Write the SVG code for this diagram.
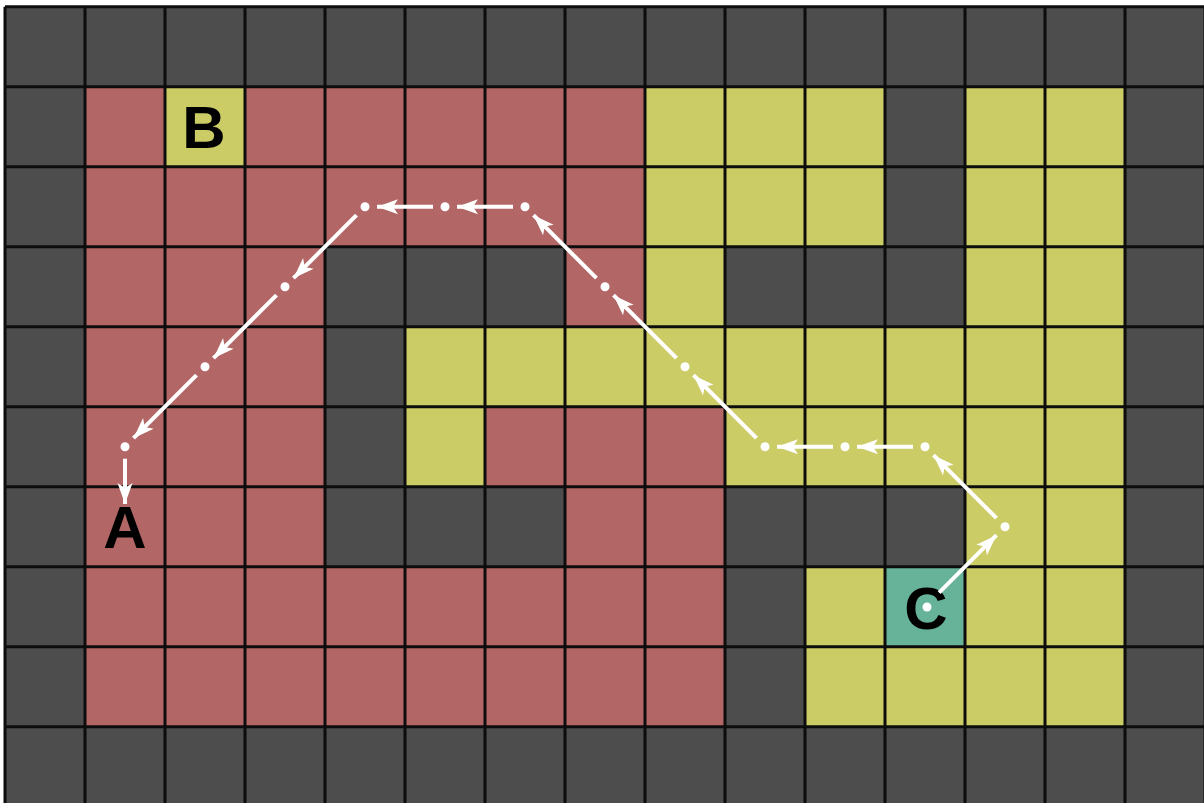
<svg xmlns="http://www.w3.org/2000/svg" width="1204" height="803" viewBox="0 0 1204 803">
<style>
.d{fill:#4d4d4d}.r{fill:#b36666}.y{fill:#cccc66}.t{fill:#66b399}
.grid{stroke:#0d0d0d;stroke-width:3;fill:none}
.lbl{font-family:"Liberation Sans",Arial,sans-serif;font-weight:bold;font-size:60px;fill:#000;text-anchor:middle}
.seg{stroke:#fff;stroke-width:4;fill:none;marker-end:url(#ah)}
.dot{fill:#fff}
</style>
<defs>
<marker id="ah" markerUnits="userSpaceOnUse" markerWidth="24" markerHeight="18" viewBox="0 -9 22 18" refX="21" refY="0" orient="auto">
<path d="M0,-7.5 L21,0 L0,7.5 L5,0 z" fill="#fff"/>
</marker>
</defs>
<rect width="1204" height="803" fill="#fff"/>
<g id="grid" transform="translate(5,6.7)">
<rect class="d" x="0" y="0" width="1200" height="800"/>
<g id="red">
<rect class="r" x="80" y="80" width="80" height="80"/>
<rect class="r" x="240" y="80" width="400" height="80"/>
<rect class="r" x="80" y="160" width="560" height="80"/>
<rect class="r" x="80" y="240" width="240" height="320"/>
<rect class="r" x="560" y="240" width="80" height="80"/>
<rect class="r" x="480" y="400" width="240" height="80"/>
<rect class="r" x="560" y="480" width="160" height="80"/>
<rect class="r" x="80" y="560" width="640" height="160"/>
</g>
<g id="yellow">
<rect class="y" x="640" y="80" width="240" height="160"/>
<rect class="y" x="960" y="80" width="160" height="640"/>
<rect class="y" x="640" y="240" width="80" height="80"/>
<rect class="y" x="400" y="320" width="560" height="80"/>
<rect class="y" x="400" y="400" width="80" height="80"/>
<rect class="y" x="720" y="400" width="240" height="80"/>
<rect class="y" x="800" y="560" width="80" height="160"/>
<rect class="y" x="880" y="640" width="80" height="80"/>
</g>
<g id="nodeB"><rect class="y" x="160" y="80" width="80" height="80"/></g>
<g id="nodeC"><rect class="t" x="880" y="560" width="80" height="80"/></g>
<path class="grid" d="M0,0V800M80,0V800M160,0V800M240,0V800M320,0V800M400,0V800M480,0V800M560,0V800M640,0V800M720,0V800M800,0V800M880,0V800M960,0V800M1040,0V800M1120,0V800M1200,0V800M0,0H1200M0,80H1200M0,160H1200M0,240H1200M0,320H1200M0,400H1200M0,480H1200M0,560H1200M0,640H1200M0,720H1200M0,800H1200"/>
</g>
<g id="labels">
<text id="labelA" class="lbl" x="125" y="548">A</text>
<text id="labelB" class="lbl" x="204" y="148">B</text>
<text id="labelC" class="lbl" x="926" y="629">C</text>
</g>
<g id="connectors">
<line class="seg" x1="939.1" y1="592.6" x2="996.5" y2="535.2"/>
<line class="seg" x1="996.5" y1="518.2" x2="933.5" y2="455.2"/>
<line class="seg" x1="913" y1="446.7" x2="857" y2="446.7"/>
<line class="seg" x1="833" y1="446.7" x2="777" y2="446.7"/>
<line class="seg" x1="756.5" y1="438.2" x2="693.5" y2="375.2"/>
<line class="seg" x1="676.5" y1="358.2" x2="613.5" y2="295.2"/>
<line class="seg" x1="596.5" y1="278.2" x2="533.5" y2="215.2"/>
<line class="seg" x1="513" y1="206.7" x2="457" y2="206.7"/>
<line class="seg" x1="433" y1="206.7" x2="377" y2="206.7"/>
<line class="seg" x1="356.5" y1="215.2" x2="293.5" y2="278.2"/>
<line class="seg" x1="276.5" y1="295.2" x2="213.5" y2="358.2"/>
<line class="seg" x1="196.5" y1="375.2" x2="133.5" y2="438.2"/>
<line class="seg" x1="125" y1="458.7" x2="125" y2="504"/>
<g id="dots">
<circle class="dot" cx="927" cy="607" r="4.5"/>
<circle class="dot" cx="1005" cy="526.7" r="4.5"/>
<circle class="dot" cx="925" cy="446.7" r="4.5"/>
<circle class="dot" cx="845" cy="446.7" r="4.5"/>
<circle class="dot" cx="765" cy="446.7" r="4.5"/>
<circle class="dot" cx="685" cy="366.7" r="4.5"/>
<circle class="dot" cx="605" cy="286.7" r="4.5"/>
<circle class="dot" cx="525" cy="206.7" r="4.5"/>
<circle class="dot" cx="445" cy="206.7" r="4.5"/>
<circle class="dot" cx="365" cy="206.7" r="4.5"/>
<circle class="dot" cx="285" cy="286.7" r="4.5"/>
<circle class="dot" cx="205" cy="366.7" r="4.5"/>
<circle class="dot" cx="125" cy="446.7" r="4.5"/>
</g>
</g>
</svg>
